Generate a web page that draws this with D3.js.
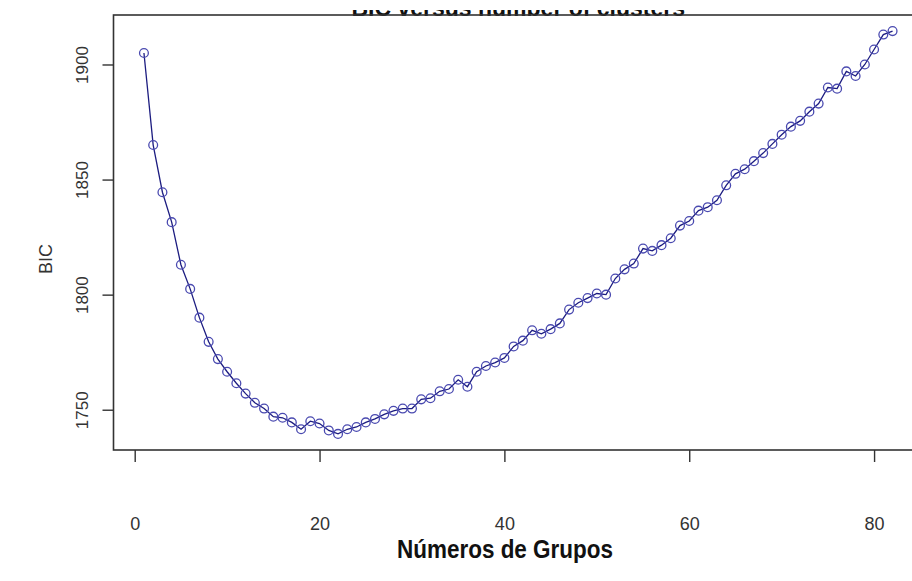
<!DOCTYPE html>
<html>
<head>
<meta charset="utf-8">
<script src="https://cdn.jsdelivr.net/npm/d3@7"></script>
<style>
  html, body { margin: 0; padding: 0; background: #fff; }
  svg { display: block; }
</style>
</head>
<body>
<svg id="chart" width="912" height="581"></svg>
<script>
// ---- data ----
const groups = d3.range(1, 83);
const bic = [
  1905, 1865, 1844.5, 1831.5, 1813, 1802.5, 1790, 1779.5, 1772, 1766.5,
  1761.5, 1757, 1753, 1750.5, 1747, 1746.5, 1744.5, 1741.5, 1745, 1744,
  1741, 1739.5, 1741.5, 1742.5, 1744.5, 1746, 1748, 1749.5, 1750.5, 1750.5,
  1754.5, 1755, 1758, 1759, 1763, 1760, 1766.5, 1769, 1770.5, 1772.5,
  1777.5, 1780, 1784.5, 1783, 1785, 1787.5, 1793.5, 1796.5, 1798.5, 1800.5,
  1800, 1807, 1811, 1813.5, 1820, 1819, 1821.5, 1824.5, 1830, 1832,
  1836.5, 1838, 1841, 1847.5, 1852.5, 1854.5, 1858, 1861.5, 1865.5, 1869.5,
  1873, 1875.5, 1879.5, 1883, 1890, 1889.5, 1897, 1895, 1900, 1906.5,
  1913, 1914.5
];
const xTicks = [0, 20, 40, 60, 80];
const yTicks = [1750, 1800, 1850, 1900];
const titleText = "BIC versus number of clusters";
const xLabel = "Números de Grupos";
const yLabel = "BIC";

// ---- layout ----
const svg = d3.select("#chart");
const L = 114, R = 922.5, T = 15, B = 450;

function rExtent(arr) {
  const [a, b] = d3.extent(arr);
  const pad = (b - a) * 0.04;
  return [a - pad, b + pad];
}
const x = d3.scaleLinear().domain(rExtent(groups)).range([L, R]);
const y = d3.scaleLinear().domain(rExtent(bic)).range([B, T]);

const data = groups.map((g, i) => ({ g, v: bic[i] }));

// title (mostly cut off at the top, as in the reference)
svg.append("defs").append("clipPath").attr("id", "titleclip")
  .append("rect").attr("x", 0).attr("y", 10).attr("width", 912).attr("height", 20);
svg.append("text")
  .attr("clip-path", "url(#titleclip)")
  .attr("x", (L + R) / 2).attr("y", 15.5)
  .attr("text-anchor", "middle")
  .attr("font-family", "Liberation Sans, Arial, sans-serif")
  .attr("font-weight", "bold")
  .attr("font-size", 23)
  .attr("fill", "#111")
  .text(titleText);

// line + points
const line = d3.line().x(d => x(d.g)).y(d => y(d.v));
svg.append("path")
  .datum(data)
  .attr("d", line)
  .attr("fill", "none")
  .attr("stroke", "#1c1c80")
  .attr("stroke-width", 1.3);

svg.append("g").selectAll("circle")
  .data(data)
  .join("circle")
  .attr("cx", d => x(d.g))
  .attr("cy", d => y(d.v))
  .attr("r", 4.4)
  .attr("fill", "none")
  .attr("stroke", "#4a4ab0")
  .attr("stroke-width", 1.3);

// box
svg.append("rect")
  .attr("x", L - 0.5).attr("y", T)
  .attr("width", R - L + 0.5).attr("height", B - T)
  .attr("fill", "none")
  .attr("stroke", "#333")
  .attr("stroke-width", 1.6);

// x axis
const xAxis = svg.append("g")
  .attr("transform", `translate(0,${B})`)
  .call(d3.axisBottom(x).tickValues(xTicks).tickSize(12).tickFormat(d3.format("d")));
xAxis.select(".domain").remove();
xAxis.selectAll(".tick line").attr("stroke", "#333").attr("stroke-width", 1.4);
xAxis.selectAll(".tick text")
  .attr("y", 80)
  .attr("dy", 0)
  .attr("font-family", "Liberation Sans, Arial, sans-serif")
  .attr("font-size", 18)
  .attr("fill", "#333");

// y axis
const yAxis = svg.append("g")
  .attr("transform", `translate(${L - 0.5},0)`)
  .call(d3.axisLeft(y).tickValues(yTicks).tickSize(11).tickFormat(d3.format("d")));
yAxis.select(".domain").remove();
yAxis.selectAll(".tick line").attr("stroke", "#333").attr("stroke-width", 1.4);
yAxis.selectAll(".tick text")
  .attr("x", 0).attr("dy", 0)
  .attr("text-anchor", "middle")
  .attr("transform", "translate(-26,0) rotate(-90)")
  .attr("font-family", "Liberation Sans, Arial, sans-serif")
  .attr("font-size", 17)
  .attr("fill", "#333");

// axis labels
svg.append("text")
  .attr("transform", `translate(52,259) rotate(-90)`)
  .attr("text-anchor", "middle")
  .attr("font-family", "Liberation Sans, Arial, sans-serif")
  .attr("font-size", 18)
  .attr("fill", "#333")
  .text(yLabel);

svg.append("text")
  .attr("x", 397).attr("y", 558)
  .attr("textLength", 216)
  .attr("lengthAdjust", "spacingAndGlyphs")
  .attr("font-family", "Liberation Sans, Arial, sans-serif")
  .attr("font-weight", "bold")
  .attr("font-size", 26)
  .attr("fill", "#111")
  .text(xLabel);
</script>
</body>
</html>
